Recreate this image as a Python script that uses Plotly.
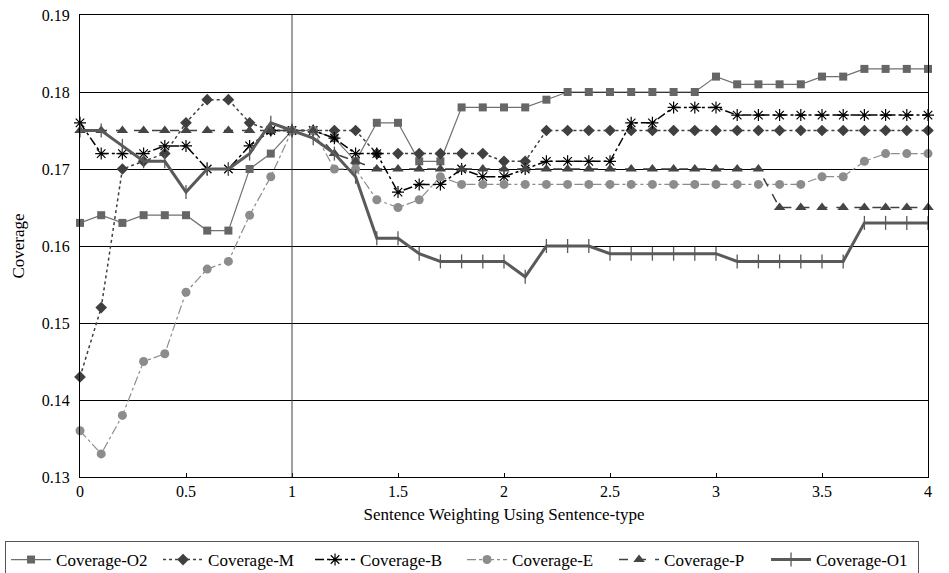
import plotly.graph_objects as go

x_vals = [round(i * 0.1, 1) for i in range(41)]

cov_o2 = [0.163, 0.164, 0.163, 0.164, 0.164, 0.164, 0.162, 0.162, 0.170, 0.172,
          0.175, 0.175, 0.174, 0.171, 0.176, 0.176, 0.171, 0.171, 0.178, 0.178,
          0.178, 0.178, 0.179, 0.180, 0.180, 0.180, 0.180, 0.180, 0.180, 0.180,
          0.182, 0.181, 0.181, 0.181, 0.181, 0.182, 0.182, 0.183, 0.183, 0.183, 0.183]
cov_m = [0.143, 0.152, 0.170, 0.171, 0.172, 0.176, 0.179, 0.179, 0.176, 0.175,
         0.175, 0.175, 0.175, 0.175, 0.172, 0.172, 0.172, 0.172, 0.172, 0.172,
         0.171, 0.171, 0.175, 0.175, 0.175, 0.175, 0.175, 0.175, 0.175, 0.175,
         0.175, 0.175, 0.175, 0.175, 0.175, 0.175, 0.175, 0.175, 0.175, 0.175, 0.175]
cov_b = [0.176, 0.172, 0.172, 0.172, 0.173, 0.173, 0.170, 0.170, 0.173, 0.175,
         0.175, 0.175, 0.174, 0.172, 0.172, 0.167, 0.168, 0.168, 0.170, 0.169,
         0.169, 0.170, 0.171, 0.171, 0.171, 0.171, 0.176, 0.176, 0.178, 0.178,
         0.178, 0.177, 0.177, 0.177, 0.177, 0.177, 0.177, 0.177, 0.177, 0.177, 0.177]
cov_e = [0.136, 0.133, 0.138, 0.145, 0.146, 0.154, 0.157, 0.158, 0.164, 0.169,
         0.175, 0.175, 0.170, 0.170, 0.166, 0.165, 0.166, 0.169, 0.168, 0.168,
         0.168, 0.168, 0.168, 0.168, 0.168, 0.168, 0.168, 0.168, 0.168, 0.168,
         0.168, 0.168, 0.168, 0.168, 0.168, 0.169, 0.169, 0.171, 0.172, 0.172, 0.172]
cov_p = [0.175, 0.175, 0.175, 0.175, 0.175, 0.175, 0.175, 0.175, 0.175, 0.175,
         0.175, 0.175, 0.172, 0.171, 0.170, 0.170, 0.170, 0.170, 0.170, 0.170,
         0.170, 0.170, 0.170, 0.170, 0.170, 0.170, 0.170, 0.170, 0.170, 0.170,
         0.170, 0.170, 0.170, 0.165, 0.165, 0.165, 0.165, 0.165, 0.165, 0.165, 0.165]
cov_o1 = [0.175, 0.175, 0.173, 0.171, 0.171, 0.167, 0.170, 0.170, 0.172, 0.176,
          0.175, 0.174, 0.172, 0.169, 0.161, 0.161, 0.159, 0.158, 0.158, 0.158,
          0.158, 0.156, 0.160, 0.160, 0.160, 0.159, 0.159, 0.159, 0.159, 0.159,
          0.159, 0.158, 0.158, 0.158, 0.158, 0.158, 0.158, 0.163, 0.163, 0.163, 0.163]

y_ticks = [0.13, 0.14, 0.15, 0.16, 0.17, 0.18, 0.19]
x_ticks = [0, 0.5, 1, 1.5, 2, 2.5, 3, 3.5, 4]
ref_x = 1

FONT = "Times New Roman, Liberation Serif, DejaVu Serif, serif"
FS_TICK = 16
FS = 17

fig = go.Figure()

series = [
    ("Coverage-O2", cov_o2, dict(color="#707070", width=1.2, dash="solid"),
     dict(symbol="square", size=8, color="#666666")),
    ("Coverage-M", cov_m, dict(color="#404040", width=1.5, dash="dot"),
     dict(symbol="diamond", size=9, color="#404040")),
    ("Coverage-B", cov_b, dict(color="#000000", width=1.5, dash="dashdot"),
     dict(symbol="asterisk-open", size=10, color="#000000", line=dict(width=1.2, color="#000000"))),
    ("Coverage-E", cov_e, dict(color="#8c8c8c", width=1.2, dash="dashdot"),
     dict(symbol="circle", size=9, color="#8c8c8c")),
    ("Coverage-P", cov_p, dict(color="#404040", width=1.5, dash="dash"),
     dict(symbol="triangle-up", size=10, color="#454545")),
    ("Coverage-O1", cov_o1, dict(color="#5a5a5a", width=3, dash="solid"),
     dict(symbol="line-ns-open", size=10, color="#5a5a5a", line=dict(width=1.3, color="#5a5a5a"))),
]

for name, ys, ln, mk in series:
    fig.add_trace(go.Scatter(x=x_vals, y=ys, name=name, mode="lines+markers",
                             line=ln, marker=mk, cliponaxis=False))

fig.add_shape(type="line", xref="x", yref="paper", x0=ref_x, x1=ref_x, y0=0, y1=1,
              line=dict(color="#404040", width=1))

fig.update_layout(
    width=949, height=573,
    margin=dict(l=80, r=21, t=15, b=96, autoexpand=False),
    paper_bgcolor="white", plot_bgcolor="white",
    font=dict(family=FONT, size=FS, color="#000000"),
    xaxis=dict(range=[0, 4], tickvals=x_ticks, ticktext=[f"{v:g}" for v in x_ticks],
               showgrid=False, zeroline=False, showline=True, linecolor="#000000",
               linewidth=1, mirror=True, ticks="inside", ticklen=4, tickcolor="#000000",
               ticklabelstandoff=0, tickfont=dict(size=FS_TICK),
               title=dict(text="Sentence Weighting Using Sentence-type", standoff=8,
                          font=dict(size=FS))),
    yaxis=dict(range=[0.13, 0.19], tickvals=y_ticks, ticktext=[f"{v:.2f}" for v in y_ticks],
               showgrid=True, gridcolor="#000000", gridwidth=1, zeroline=False,
               showline=True, linecolor="#000000", linewidth=1, mirror=True,
               ticks="", ticklabelstandoff=6, tickfont=dict(size=FS_TICK),
               title=dict(text="Coverage", standoff=12, font=dict(size=FS))),
    legend=dict(orientation="h", x=-0.0884, xanchor="left", y=-0.1385, yanchor="top",
                bordercolor="#555555", borderwidth=1, bgcolor="white",
                font=dict(size=FS), itemwidth=40,
                entrywidth=97, entrywidthmode="pixels", tracegroupgap=0),
    showlegend=True,
)

fig.write_html("out.html")
